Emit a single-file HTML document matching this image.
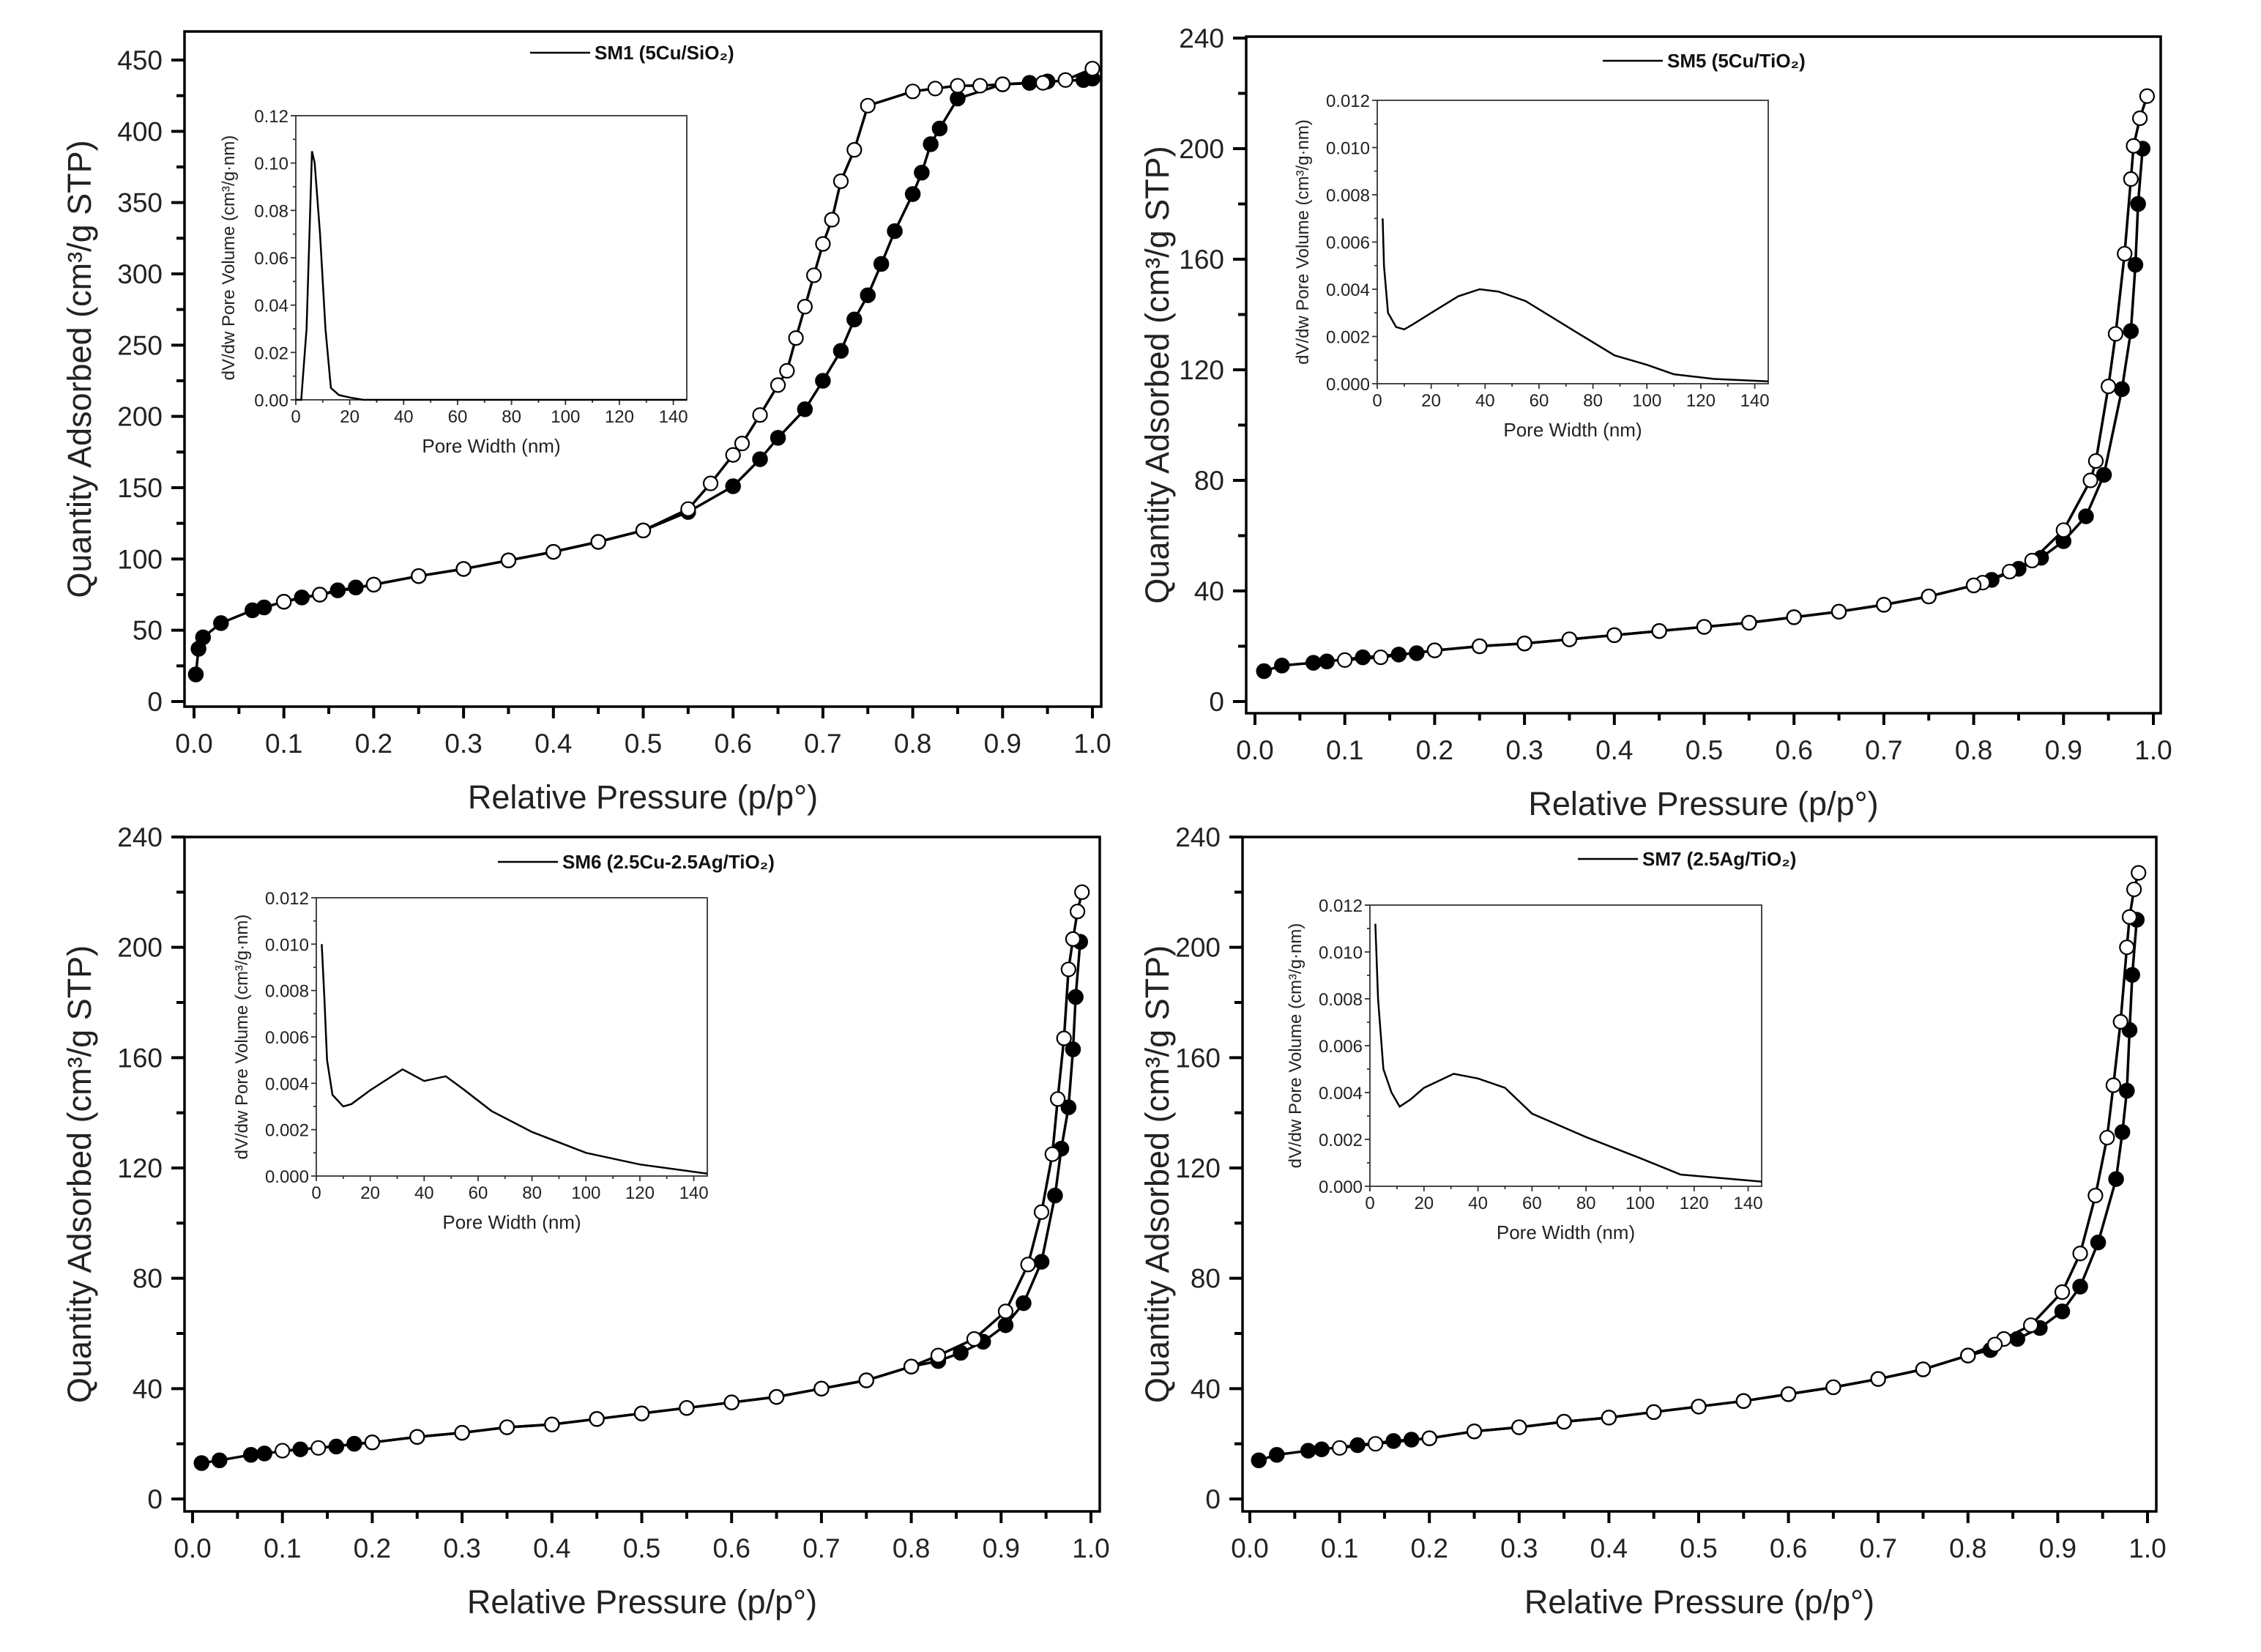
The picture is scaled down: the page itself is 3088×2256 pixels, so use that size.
<!DOCTYPE html>
<html><head><meta charset="utf-8"><style>
html,body{margin:0;padding:0;background:#fff}
svg{display:block;font-family:"Liberation Sans",Arial,sans-serif}
</style></head><body>
<svg id="fig" width="3088" height="2256" viewBox="0 0 3088 2256" xmlns="http://www.w3.org/2000/svg"></svg>
<script>
// ---------- DATA ----------
const sm1AdsX=[0.002,0.005,0.01,0.03,0.065,0.078,0.1,0.12,0.14,0.16,0.18,0.2,0.25,0.3,0.35,0.4,0.45,0.5,0.55,0.6,0.63,0.65,0.68,0.70,0.72,0.735,0.75,0.765,0.78,0.8,0.81,0.82,0.83,0.85,0.9,0.93,0.95,0.99,1.0];
const sm1AdsY=[19,37,45,55,64,66,70,73,75,78,80,82,88,93,99,105,112,120,133,151,170,185,205,225,246,268,285,307,330,356,371,391,402,423,433,434,435,436,437];
const sm1DesX=[1.0,0.97,0.945,0.9,0.875,0.85,0.825,0.8,0.75,0.735,0.72,0.71,0.7,0.69,0.68,0.67,0.66,0.65,0.63,0.61,0.60,0.575,0.55,0.5,0.45,0.4,0.35,0.3,0.25,0.2,0.14,0.1];
const sm1DesY=[444,436,434,433,432,432,430,428,418,387,365,338,321,299,277,255,232,222,201,181,173,153,135,120,112,105,99,93,88,82,75,70];
const sm1PoreX=[0,2,4,6,7,9,11,13,16,20,25,145];
const sm1PoreY=[0,0,0.03,0.105,0.1,0.07,0.03,0.005,0.002,0.001,0,0];

const sm5AdsX=[0.01,0.03,0.065,0.08,0.12,0.16,0.18,0.2,0.25,0.3,0.35,0.4,0.45,0.5,0.55,0.6,0.65,0.7,0.75,0.8,0.82,0.85,0.875,0.9,0.925,0.945,0.965,0.975,0.98,0.983,0.988];
const sm5AdsY=[11,13,14,14.5,16,17,17.5,18.5,20,21,22.5,24,25.5,27,28.5,30.5,32.5,35,38,42,44,48,52,58,67,82,113,134,158,180,200];
const sm5DesX=[0.993,0.985,0.978,0.975,0.968,0.958,0.95,0.936,0.93,0.9,0.865,0.84,0.81,0.8,0.75,0.7,0.65,0.6,0.55,0.5,0.45,0.4,0.35,0.3,0.25,0.2,0.14,0.1];
const sm5DesY=[219,211,201,189,162,133,114,87,80,62,51,47,43,42,38,35,32.5,30.5,28.5,27,25.5,24,22.5,21,20,18.5,16,15];
const sm5PoreX=[2,2.5,4,7,10,13,20,30,38,45,55,65,75,88,100,110,125,145];
const sm5PoreY=[0.007,0.005,0.003,0.0024,0.0023,0.0025,0.003,0.0037,0.004,0.0039,0.0035,0.0028,0.0021,0.0012,0.0008,0.0004,0.0002,0.0001];

const sm6AdsX=[0.01,0.03,0.065,0.08,0.12,0.16,0.18,0.2,0.25,0.3,0.35,0.4,0.45,0.5,0.55,0.6,0.65,0.7,0.75,0.8,0.83,0.855,0.88,0.905,0.925,0.945,0.96,0.967,0.975,0.98,0.983,0.988];
const sm6AdsY=[13,14,16,16.5,18,19,20,20.5,22.5,24,26,27,29,31,33,35,37,40,43,48,50,53,57,63,71,86,110,127,142,163,182,202];
const sm6DesX=[0.99,0.985,0.98,0.975,0.97,0.963,0.957,0.945,0.93,0.905,0.87,0.83,0.8,0.75,0.7,0.65,0.6,0.55,0.5,0.45,0.4,0.35,0.3,0.25,0.2,0.14,0.1];
const sm6DesY=[220,213,203,192,167,145,125,104,85,68,58,52,48,43,40,37,35,33,31,29,27,26,24,22.5,20.5,18.5,17.5];
const sm6PoreX=[2,3,4,6,10,13,20,32,40,48,55,65,80,100,120,145];
const sm6PoreY=[0.01,0.0077,0.005,0.0035,0.003,0.0031,0.0037,0.0046,0.0041,0.0043,0.0037,0.0028,0.0019,0.001,0.0005,0.0001];

const sm7AdsX=[0.01,0.03,0.065,0.08,0.12,0.16,0.18,0.2,0.25,0.3,0.35,0.4,0.45,0.5,0.55,0.6,0.65,0.7,0.75,0.8,0.825,0.855,0.88,0.905,0.925,0.945,0.965,0.972,0.977,0.98,0.983,0.988];
const sm7AdsY=[14,16,17.5,18,19.5,21,21.5,22,24.5,26,28,29.5,31.5,33.5,35.5,38,40.5,43.5,47,52,54,58,62,68,77,93,116,133,148,170,190,210];
const sm7DesX=[0.99,0.985,0.98,0.977,0.97,0.962,0.955,0.942,0.925,0.905,0.87,0.84,0.83,0.8,0.75,0.7,0.65,0.6,0.55,0.5,0.45,0.4,0.35,0.3,0.25,0.2,0.14,0.1];
const sm7DesY=[227,221,211,200,173,150,131,110,89,75,63,58,56,52,47,43.5,40.5,38,35.5,33.5,31.5,29.5,28,26,24.5,22,20,18.5];
const sm7PoreX=[2,3,5,8,11,15,20,31,40,50,60,80,100,115,145];
const sm7PoreY=[0.0112,0.008,0.005,0.004,0.0034,0.0037,0.0042,0.0048,0.0046,0.0042,0.0031,0.0021,0.0012,0.0005,0.0002];

const xTickLabels=["0.0","0.1","0.2","0.3","0.4","0.5","0.6","0.7","0.8","0.9","1.0"];
const yTicksSiO2=[0,50,100,150,200,250,300,350,400,450];
const yTicksTiO2=[0,40,80,120,160,200,240];
const insetXTicks=[0,20,40,60,80,100,120,140];
const insetYTicksSiO2=["0.00","0.02","0.04","0.06","0.08","0.10","0.12"];
const insetYTicksTiO2=["0.000","0.002","0.004","0.006","0.008","0.010","0.012"];

// ---------- DRAW ----------
const NS="http://www.w3.org/2000/svg";
const svg=document.getElementById('fig');
function mk(tag,attrs,parent){const e=document.createElementNS(NS,tag);for(const k in attrs)e.setAttribute(k,attrs[k]);(parent||svg).appendChild(e);return e;}

const panels=[
 {id:'sm1',title:'SM1 (5Cu/SiO₂)',fl:252,fr:1504,ft:43,fb:965,x0:265,x1:1492,yTop:82,yBot:958,yMax:450,yTicks:yTicksSiO2,minor:25,
  ads:[sm1AdsX,sm1AdsY],des:[sm1DesX,sm1DesY],pore:[sm1PoreX,sm1PoreY],insY:insetYTicksSiO2,insMax:0.12,
  il:404,ir:938,it:158,ib:546,legY:72,legX:724,ylabX:108},
 {id:'sm5',title:'SM5 (5Cu/TiO₂)',fl:1702,fr:2951,ft:50,fb:974,x0:1714,x1:2941,yTop:52,yBot:958,yMax:240,yTicks:yTicksTiO2,minor:20,
  ads:[sm5AdsX,sm5AdsY],des:[sm5DesX,sm5DesY],pore:[sm5PoreX,sm5PoreY],insY:insetYTicksTiO2,insMax:0.012,
  il:1881,ir:2415,it:137,ib:524,legY:83,legX:2189,ylabX:1580},
 {id:'sm6',title:'SM6 (2.5Cu-2.5Ag/TiO₂)',fl:252,fr:1502,ft:1143,fb:2064,x0:263,x1:1490,yTop:1143,yBot:2047,yMax:240,yTicks:yTicksTiO2,minor:20,
  ads:[sm6AdsX,sm6AdsY],des:[sm6DesX,sm6DesY],pore:[sm6PoreX,sm6PoreY],insY:insetYTicksTiO2,insMax:0.012,
  il:432,ir:966,it:1226,ib:1606,legY:1177,legX:680,ylabX:108},
 {id:'sm7',title:'SM7 (2.5Ag/TiO₂)',fl:1697,fr:2945,ft:1143,fb:2064,x0:1707,x1:2933,yTop:1143,yBot:2047,yMax:240,yTicks:yTicksTiO2,minor:20,
  ads:[sm7AdsX,sm7AdsY],des:[sm7DesX,sm7DesY],pore:[sm7PoreX,sm7PoreY],insY:insetYTicksTiO2,insMax:0.012,
  il:1871,ir:2406,it:1236,ib:1620,legY:1173,legX:2155,ylabX:1580}
];

panels.forEach(p=>{
  const g=mk('g',{});
  
  
  const sx=v=>p.x0+(p.x1-p.x0)*v;
  const sy=v=>p.yBot-(p.yBot-p.yTop)*v/p.yMax;
  const fr=mk('rect',{x:p.fl,y:p.ft,width:p.fr-p.fl,height:p.fb-p.ft,fill:'none',stroke:'#000','stroke-width':3.5},g);
  
  
  const xa=mk('g',{},g);
  
  
  for(let i=0;i<=20;i++){const v=i/20,x=sx(v);const major=i%2===0;
    mk('line',{x1:x,y1:p.fb,x2:x,y2:p.fb+(major?16:10),stroke:'#000','stroke-width':4},xa);
    if(major){const t=mk('text',{x:x,y:p.fb+63,'font-size':37,'text-anchor':'middle',fill:'#222'},xa);t.textContent=xTickLabels[i/2];
      
      }
  }
  const ya=mk('g',{},g);
  
  
  for(let v=0;v<=p.yMax;v+=p.minor){const y=sy(v);const major=p.yTicks.indexOf(v)>=0;
    mk('line',{x1:p.fl-(major?18:11),y1:y,x2:p.fl,y2:y,stroke:'#000','stroke-width':4},ya);
    if(major){const t=mk('text',{x:p.fl-30,y:y+13,'font-size':37,'text-anchor':'end',fill:'#222'},ya);t.textContent=v;
      
      }
  }
  const xt=mk('text',{x:(p.fl+p.fr)/2,y:p.fb+139,'font-size':45,'text-anchor':'middle',fill:'#222'},g);
  xt.textContent='Relative Pressure (p/p°)';
  
  
  const cy=(p.ft+p.fb)/2;
  const yt=mk('text',{x:p.ylabX,y:cy,'font-size':45,'text-anchor':'middle',fill:'#222',transform:`rotate(-90 ${p.ylabX} ${cy})`,dy:16},g);
  yt.textContent='Quantity Adsorbed (cm³/g STP)';
  
  
  const lg=mk('g',{},g);
  
  
  mk('line',{x1:p.legX,y1:p.legY,x2:p.legX+82,y2:p.legY,stroke:'#000','stroke-width':2.5},lg);
  const lt=mk('text',{x:p.legX+88,y:p.legY+9,'font-size':26,'font-weight':'bold',fill:'#111'},lg);
  lt.textContent=p.title;
  const pts=(a)=>a[0].map((x,i)=>sx(x).toFixed(1)+','+sy(a[1][i]).toFixed(1)).join(' ');
  const la=mk('polyline',{points:pts(p.ads),fill:'none',stroke:'#000','stroke-width':3.5},g);
  
  
  const ld=mk('polyline',{points:pts(p.des),fill:'none',stroke:'#000','stroke-width':3.5},g);
  
  
  p.ads[0].forEach((x,i)=>{const c=mk('circle',{cx:sx(x),cy:sy(p.ads[1][i]),r:10,fill:'#000',stroke:'#000','stroke-width':1.5},g);
    
    });
  p.des[0].forEach((x,i)=>{const c=mk('circle',{cx:sx(x),cy:sy(p.des[1][i]),r:9.5,fill:'#fff',stroke:'#000','stroke-width':2.2},g);
    
    });
  const ig=mk('g',{},g);
  
  
  const ix=v=>p.il+(p.ir-p.il)*v/145;
  const iy=v=>p.ib-(p.ib-p.it)*v/p.insMax;
  mk('rect',{x:p.il,y:p.it,width:p.ir-p.il,height:p.ib-p.it,fill:'#fff',stroke:'#333','stroke-width':1.8},ig);
  for(let v=0;v<=140;v+=10){const x=ix(v);const major=v%20===0;
    mk('line',{x1:x,y1:p.ib,x2:x,y2:p.ib+(major?7:4),stroke:'#333','stroke-width':1.8},ig);
    if(major){const t=mk('text',{x:x,y:p.ib+31,'font-size':24,'text-anchor':'middle',fill:'#222'},ig);t.textContent=insetXTicks[v/20];
      
      }
  }
  for(let i=0;i<=12;i++){const y=p.ib-(p.ib-p.it)*i/12;const major=i%2===0;
    mk('line',{x1:p.il-(major?7:4),y1:y,x2:p.il,y2:y,stroke:'#333','stroke-width':1.8},ig);
    if(major){const t=mk('text',{x:p.il-10,y:y+9,'font-size':24,'text-anchor':'end',fill:'#222'},ig);t.textContent=p.insY[i/2];
      
      }
  }
  const ixt=mk('text',{x:(p.il+p.ir)/2,y:p.ib+72,'font-size':26,'text-anchor':'middle',fill:'#222'},ig);
  ixt.textContent='Pore Width (nm)';
  
  
  const icx=p.il-(p.insMax<0.05?102:92), icy=(p.it+p.ib)/2;
  const iyt=mk('text',{x:icx,y:icy,'font-size':24,'text-anchor':'middle',fill:'#222',transform:`rotate(-90 ${icx} ${icy})`,dy:8},ig);
  iyt.textContent='dV/dw Pore Volume (cm³/g·nm)';
  
  
  const ip=mk('polyline',{points:p.pore[0].map((x,i)=>ix(x).toFixed(1)+','+iy(p.pore[1][i]).toFixed(1)).join(' '),fill:'none',stroke:'#000','stroke-width':2.5},ig);
  
  
});
</script>
</body></html>
